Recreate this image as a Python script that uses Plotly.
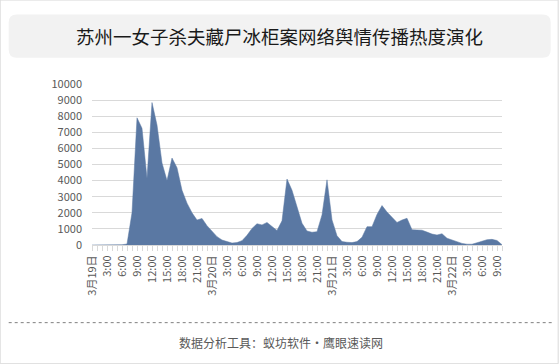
import plotly.graph_objects as go

title_text = "苏州一女子杀夫藏尸冰柜案网络舆情传播热度演化"
footer_text = "数据分析工具：蚁坊软件·鹰眼速读网"

day_labels = ["3月19日", "3月20日", "3月21日", "3月22日"]
hour_step = 3

heat = [
    0, 0, 0, 0, 0, 0, 20, 60, 2000, 7900, 7250, 4150, 8850, 7450, 5100, 4000,
    5400, 4800, 3400, 2600, 2000, 1550, 1650, 1200, 850, 520, 310, 190, 120, 150,
    270, 600, 1030, 1320, 1250, 1400, 1150, 900, 1500, 4100, 3400, 2400, 1350, 870,
    790, 830, 1870, 4050, 1560, 580, 210, 170, 150, 210, 480, 1140, 1140, 1900,
    2450, 2050, 1750, 1400, 1550, 1660, 950, 930, 920, 800, 680, 620, 700, 420,
    320, 180, 100, 50, 50, 140, 250, 330, 350, 280, 20,
]

y_ticks = list(range(0, 10001, 1000))

x_idx = list(range(len(heat)))
tick_text = []
for i in x_idx:
    if i % 24 == 0:
        tick_text.append(day_labels[i // 24])
    elif i % hour_step == 0:
        tick_text.append(f"{i % 24}:00")
    else:
        tick_text.append("")

# plot area geometry (pixels)
W_FIG, H_FIG = 560, 364
L, R = 92.3, 502.3
T, B = 84.3, 245.0
PW, PH = R - L, B - T


def px(xp):
    return (xp - L) / PW


def py(yp):
    return (B - yp) / PH


FONT = "Noto Sans CJK SC"

fig = go.Figure()
fig.add_trace(go.Scatter(
    x=x_idx, y=heat, mode="lines", fill="tozeroy",
    line=dict(color="#5a78a3", width=0.5),
    fillcolor="#5a78a3", hoverinfo="x+y",
))

# rounded title box
x0, x1, y0, y1, r = 9, 551, 15, 58, 8
path = (
    f"M {px(x0 + r)},{py(y0)} L {px(x1 - r)},{py(y0)} "
    f"Q {px(x1)},{py(y0)} {px(x1)},{py(y0 + r)} "
    f"L {px(x1)},{py(y1 - r)} Q {px(x1)},{py(y1)} {px(x1 - r)},{py(y1)} "
    f"L {px(x0 + r)},{py(y1)} Q {px(x0)},{py(y1)} {px(x0)},{py(y1 - r)} "
    f"L {px(x0)},{py(y0 + r)} Q {px(x0)},{py(y0)} {px(x0 + r)},{py(y0)} Z"
)
shapes = [
    dict(type="path", xref="paper", yref="paper", path=path,
         fillcolor="#f2f2f2", line=dict(width=0), layer="below"),
    dict(type="rect", xref="paper", yref="paper",
         x0=px(0.5), x1=px(558.5), y0=py(0.5), y1=py(363.5),
         line=dict(color="#d9d9d9", width=1), fillcolor="rgba(0,0,0,0)", layer="below"),
    dict(type="line", xref="paper", yref="paper",
         x0=px(9), x1=px(552), y0=py(322.5), y1=py(322.5),
         line=dict(color="#7f7f7f", width=1, dash="dot")),
]

annotations = [
    dict(text=title_text, xref="paper", yref="paper", x=px(280), y=py(36.5),
         showarrow=False, xanchor="center", yanchor="middle",
         font=dict(family=FONT, size=18.5, color="#1a1a1a")),
    dict(text=footer_text, xref="paper", yref="paper", x=px(281), y=py(342),
         showarrow=False, xanchor="center", yanchor="middle",
         font=dict(family=FONT, size=12, color="#595959")),
]

fig.update_layout(
    width=W_FIG, height=H_FIG,
    margin=dict(l=L, r=W_FIG - R, t=T, b=H_FIG - B, pad=0),
    paper_bgcolor="white", plot_bgcolor="white",
    showlegend=False,
    shapes=shapes, annotations=annotations,
    font=dict(family=FONT, size=11, color="#595959"),
    xaxis=dict(
        range=[0, len(heat) - 1], tickmode="array", tickvals=x_idx, ticktext=tick_text,
        tickangle=-90, ticks="outside", ticklen=5, tickcolor="#d9d9d9", tickwidth=1,
        showgrid=False, zeroline=False, showline=True, linecolor="#d9d9d9", linewidth=1,
        tickfont=dict(family=FONT, size=11, color="#595959"), fixedrange=True,
    ),
    yaxis=dict(
        range=[0, 10000], tickmode="array", tickvals=y_ticks,
        ticktext=[str(v) for v in y_ticks],
        showgrid=True, gridcolor="#d9d9d9", gridwidth=1, zeroline=False,
        showline=False, ticks="", ticklabelstandoff=9,
        tickfont=dict(family=FONT, size=11, color="#595959"), fixedrange=True,
    ),
)

fig.write_html(
    "out.html",
    config={"displayModeBar": False},
    post_script="document.body.style.margin='0';document.body.style.overflow='hidden';",
)
